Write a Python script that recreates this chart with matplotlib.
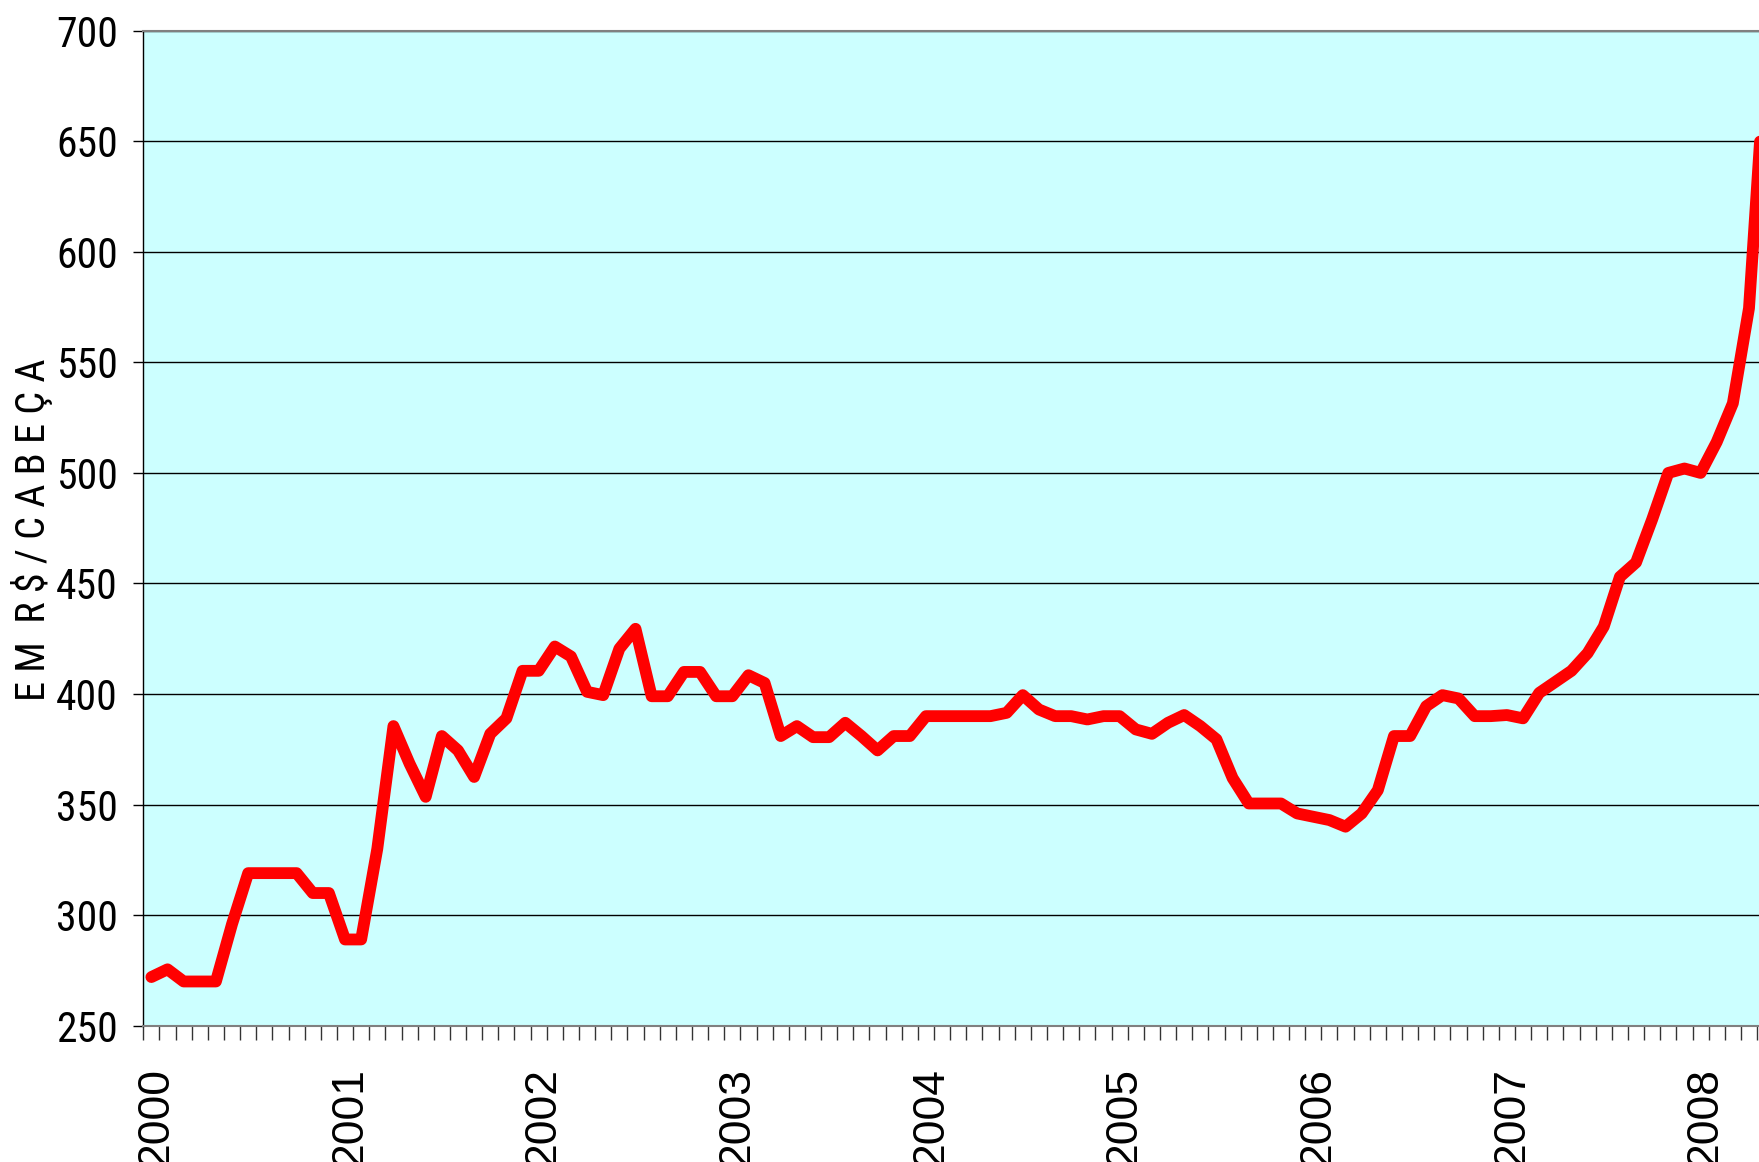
import matplotlib
matplotlib.use("Agg")
import matplotlib.pyplot as plt
from matplotlib import font_manager as fm
import numpy as np

# Monthly values, Jan 2000 onward
years = [str(y) for y in range(2000, 2009)]
months = [f"{2000 + i // 12}-{i % 12 + 1:02d}" for i in range(101)]
values = [
    272, 275.5, 270, 270, 270, 296, 319, 319, 319, 319, 310, 310,          # 2000
    289, 289, 330, 385.5, 368.5, 353.5, 381, 374.5, 362.5, 382, 389, 410.5,  # 2001
    410.5, 421.5, 417, 401, 399.5, 420.5, 429.5, 399, 399, 410, 410, 399,    # 2002
    399, 408.5, 405, 381, 385.5, 380.5, 380.5, 387, 381, 374.5, 381, 381,    # 2003
    390, 390, 390, 390, 390, 391.5, 399.5, 393, 390, 390, 388.5, 390,        # 2004
    390, 384, 382, 387, 390.5, 385.5, 379.5, 362, 350.5, 350.5, 350.5, 346,  # 2005
    344.5, 343, 340, 346, 356.5, 381, 381, 394.5, 399.5, 398, 390, 390,      # 2006
    390.5, 389, 400.5, 405.5, 410.5, 418.5, 430.5, 453, 459.5, 479, 500, 502,  # 2007
    500, 514, 531.5, 574.5, 685,                                              # 2008
]
y_ticks = [250, 300, 350, 400, 450, 500, 550, 600, 650, 700]
y_label = "E M  R $ / C A B E Ç A"

# pick a condensed face if one is installed
names = {f.name for f in fm.fontManager.ttflist}
narrow = None
for cand in ["Liberation Sans Narrow", "DejaVu Sans Condensed", "Roboto Condensed",
             "Open Sans Condensed", "Noto Sans Condensed"]:
    if cand in names:
        narrow = cand
        break
narrow_file = None
if narrow is None:
    cond_faces = [f for f in fm.fontManager.ttflist
                  if f.stretch in ("condensed", "semi-condensed", "extra-condensed")
                  and f.style == "normal"]
    pref = [f for f in cond_faces if "Sans" in f.name and f.weight in (400, "normal", "regular")]
    if pref or cond_faces:
        narrow_file = (pref or cond_faces)[0].fname


def nprop(size):
    if narrow is not None:
        return fm.FontProperties(family=narrow, size=size)
    if narrow_file is not None:
        return fm.FontProperties(fname=narrow_file, size=size)
    return fm.FontProperties(family="Liberation Sans", size=size * 0.88)


W, H = 1759, 1162
fig = plt.figure(figsize=(W / 100, H / 100), dpi=100)
left = 143.3 / W
bottom = (H - 1025.7) / H
top = 1 - 30.7 / H
ax = fig.add_axes([left, bottom, 1.0 - left, top - bottom])
ax.set_facecolor("#CCFFFF")

x = np.arange(len(values))
ax.plot(x, values, color="#FF0000", lw=8.5, solid_joinstyle="round",
        solid_capstyle="round", zorder=3)

ax.set_xlim(-0.5, 99.62)
ax.set_ylim(250, 700)

# y axis
ax.set_yticks(y_ticks)
ax.set_yticklabels([str(v) for v in y_ticks])
for lab in ax.get_yticklabels():
    lab.set_fontproperties(nprop(30))
ax.tick_params(axis="y", length=7.2, width=1.0, color="black", pad=11)
ax.yaxis.grid(True, color="black", lw=1.0)
ax.set_axisbelow(True)

# x axis: monthly tick marks at category boundaries, year labels
ax.set_xticks(np.arange(-0.5, 100.5, 1.0), minor=True)
major_pos = [12 * k + 0.3 for k in range(len(years))]
ax.set_xticks(major_pos)
ax.set_xticklabels(years, rotation=90, fontfamily="Liberation Sans",
                   fontsize=32, va="top", ha="center")
ax.tick_params(axis="x", which="major", length=0, pad=30)
ax.tick_params(axis="x", which="minor", length=10, width=1.0, color="#333333")

ax.spines["right"].set_visible(False)
ax.spines["top"].set_color("#808080")
ax.spines["top"].set_linewidth(1.5)
ax.spines["bottom"].set_color("#808080")
ax.spines["bottom"].set_linewidth(1.5)
ax.spines["left"].set_color("black")
ax.spines["left"].set_linewidth(1.0)

fig.text(32 / W, 1 - 530 / H, y_label, rotation=90, ha="center", va="center",
         fontproperties=nprop(29))

fig.savefig("out.png", dpi=100)
